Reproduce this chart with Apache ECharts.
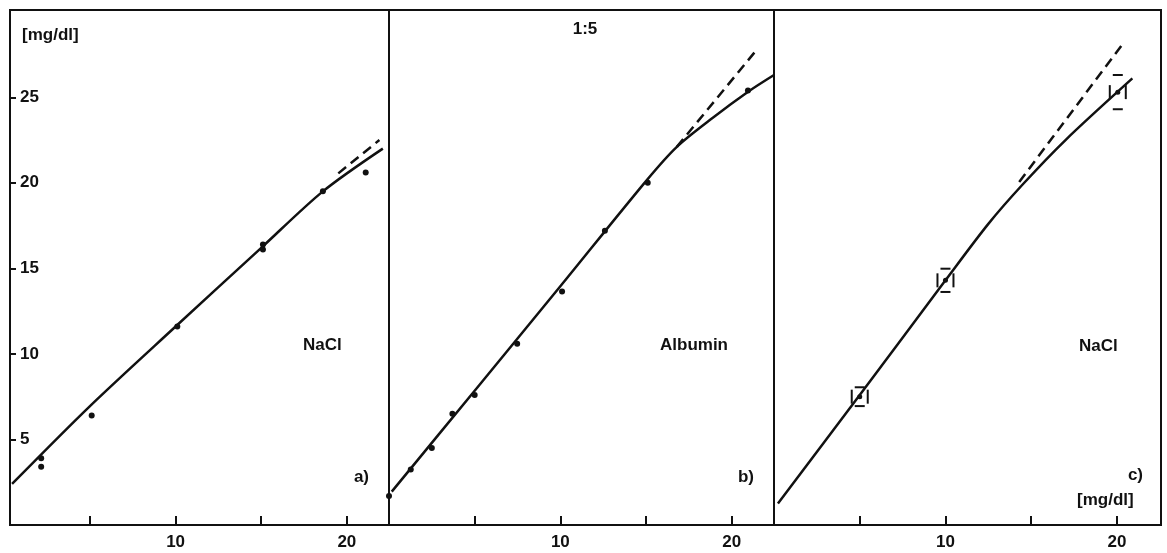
<!DOCTYPE html>
<html>
<head>
<meta charset="utf-8">
<script src="https://cdn.jsdelivr.net/npm/echarts@6/dist/echarts.min.js"></script>
<style>
html, body { margin: 0; padding: 0; background: #fff; }
#chart { width: 1167px; height: 553px; }
</style>
</head>
<body>
<div id="chart"></div>
<script>
// a) NaCl
const aDots = [[2.15, 3.9], [2.15, 3.4], [5.1, 6.4], [10.1, 11.6], [15.1, 16.1], [15.1, 16.4], [18.6, 19.5], [21.1, 20.6]];
const aCurve = [[0.45, 2.4], [5, 6.95], [10, 11.6], [15, 16.2], [18.6, 19.5], [22.1, 22.0]];
const aDash = [[19.5, 20.55], [21.9, 22.5]];

// b) Albumin 1:5
const bDots = [[0.0, 1.7], [1.27, 3.25], [2.5, 4.5], [3.7, 6.5], [5.0, 7.6], [7.48, 10.6], [10.1, 13.65], [12.6, 17.2], [15.1, 20.0], [20.95, 25.4]];
const bCurve = [[0.16, 1.95], [5, 7.85], [10, 13.95], [15, 20.1], [16.8, 22.1], [18.9, 23.8], [21, 25.35], [22.47, 26.3]];
const bDash = [[16.8, 22.1], [21.4, 27.7]];

// c) NaCl, mean with range
const cX = [5, 10, 20.05];
const cY = [7.5, 14.3, 25.3];
const cErr = [0.55, 0.68, 1.0];
const cCurve = [[0.23, 1.25], [5, 7.6], [10, 14.3], [12.5, 17.6], [14.5, 19.9], [17, 22.5], [20.9, 26.1]];
const cDash = [[14.3, 20.05], [20.4, 28.2]];

const xTicks = [5, 10, 15, 20];
const xLabels = [10, 20];
const yTicks = [5, 10, 15, 20, 25];

const ink = '#111';
const fnt = '"Liberation Sans", Arial, sans-serif';

const myChart = echarts.init(document.getElementById('chart'));

function grid(left, width) {
	return { left: left, top: 10, width: width, height: 515, show: true, borderColor: ink, borderWidth: 2, backgroundColor: 'transparent' };
}

function xAxis(i, min, max) {
	return {
		gridIndex: i, type: 'value', min: min, max: max,
		axisLine: { show: false },
		splitLine: { show: false },
		axisTick: { show: true, inside: true, length: 9, customValues: xTicks, lineStyle: { color: ink, width: 2 } },
		axisLabel: { customValues: xLabels, margin: 9, fontSize: 17, fontWeight: 'bold', fontFamily: fnt, color: ink }
	};
}

function yAxis(i, withTicks) {
	return {
		gridIndex: i, type: 'value', min: 0, max: 30.1,
		axisLine: { show: false },
		splitLine: { show: false },
		axisTick: { show: withTicks, inside: true, length: 6, customValues: yTicks, lineStyle: { color: ink, width: 2 } },
		axisLabel: { show: withTicks, inside: true, customValues: yTicks, margin: 10, fontSize: 17, fontWeight: 'bold', fontFamily: fnt, color: ink }
	};
}

function dots(i, data) {
	return { type: 'scatter', xAxisIndex: i, yAxisIndex: i, data: data, symbolSize: 6, itemStyle: { color: ink, opacity: 1 }, silent: true };
}

function curve(i, data) {
	return { type: 'line', xAxisIndex: i, yAxisIndex: i, data: data, smooth: 0.3, showSymbol: false, lineStyle: { color: ink, width: 2.5 }, silent: true };
}

function dash(i, data) {
	return { type: 'line', xAxisIndex: i, yAxisIndex: i, data: data, showSymbol: false, lineStyle: { color: ink, width: 2.5, type: [10, 6] }, silent: true };
}

function label(text, x, y, align) {
	return { type: 'text', x: x, y: y, style: { text: text, fill: ink, font: 'bold 17px ' + fnt, align: align || 'left', verticalAlign: 'middle' } };
}

// mean with range marks for panel c
const cData = cX.map((x, k) => [x, cY[k], cErr[k]]);

let option = {
	animation: false,
	backgroundColor: '#fff',
	grid: [grid(10, 379), grid(389, 385), grid(774, 387)],
	xAxis: [xAxis(0, 0.33, 22.46), xAxis(1, 0, 22.47), xAxis(2, 0, 22.57)],
	yAxis: [yAxis(0, true), yAxis(1, false), yAxis(2, false)],
	series: [
		curve(0, aCurve), dash(0, aDash), dots(0, aDots),
		curve(1, bCurve), dash(1, bDash), dots(1, bDots),
		curve(2, cCurve), dash(2, cDash),
		{
			type: 'custom', xAxisIndex: 2, yAxisIndex: 2, data: cData, silent: true,
			renderItem: function (params, api) {
				const p = api.coord([api.value(0), api.value(1)]);
				const top = api.coord([api.value(0), api.value(1) + api.value(2)]);
				const bot = api.coord([api.value(0), api.value(1) - api.value(2)]);
				const st = { stroke: ink, lineWidth: 2 };
				return {
					type: 'group',
					children: [
						{ type: 'line', shape: { x1: p[0] - 5, y1: top[1], x2: p[0] + 5, y2: top[1] }, style: st },
						{ type: 'line', shape: { x1: p[0] - 5, y1: bot[1], x2: p[0] + 5, y2: bot[1] }, style: st },
						{ type: 'line', shape: { x1: p[0] - 8, y1: p[1] - 7, x2: p[0] - 8, y2: p[1] + 7 }, style: st },
						{ type: 'line', shape: { x1: p[0] + 8, y1: p[1] - 7, x2: p[0] + 8, y2: p[1] + 7 }, style: st },
						{ type: 'circle', shape: { cx: p[0], cy: p[1], r: 2.5 }, style: { fill: ink } }
					]
				};
			}
		}
	],
	graphic: [
		label('[mg/dl]', 22, 35),
		label('1:5', 585, 29, 'center'),
		label('NaCl', 303, 345),
		label('a)', 369, 477, 'right'),
		label('Albumin', 660, 345),
		label('b)', 754, 477, 'right'),
		label('NaCl', 1079, 346),
		label('c)', 1143, 475, 'right'),
		label('[mg/dl]', 1077, 500)
	]
};

myChart.setOption(option);
</script>
</body>
</html>
